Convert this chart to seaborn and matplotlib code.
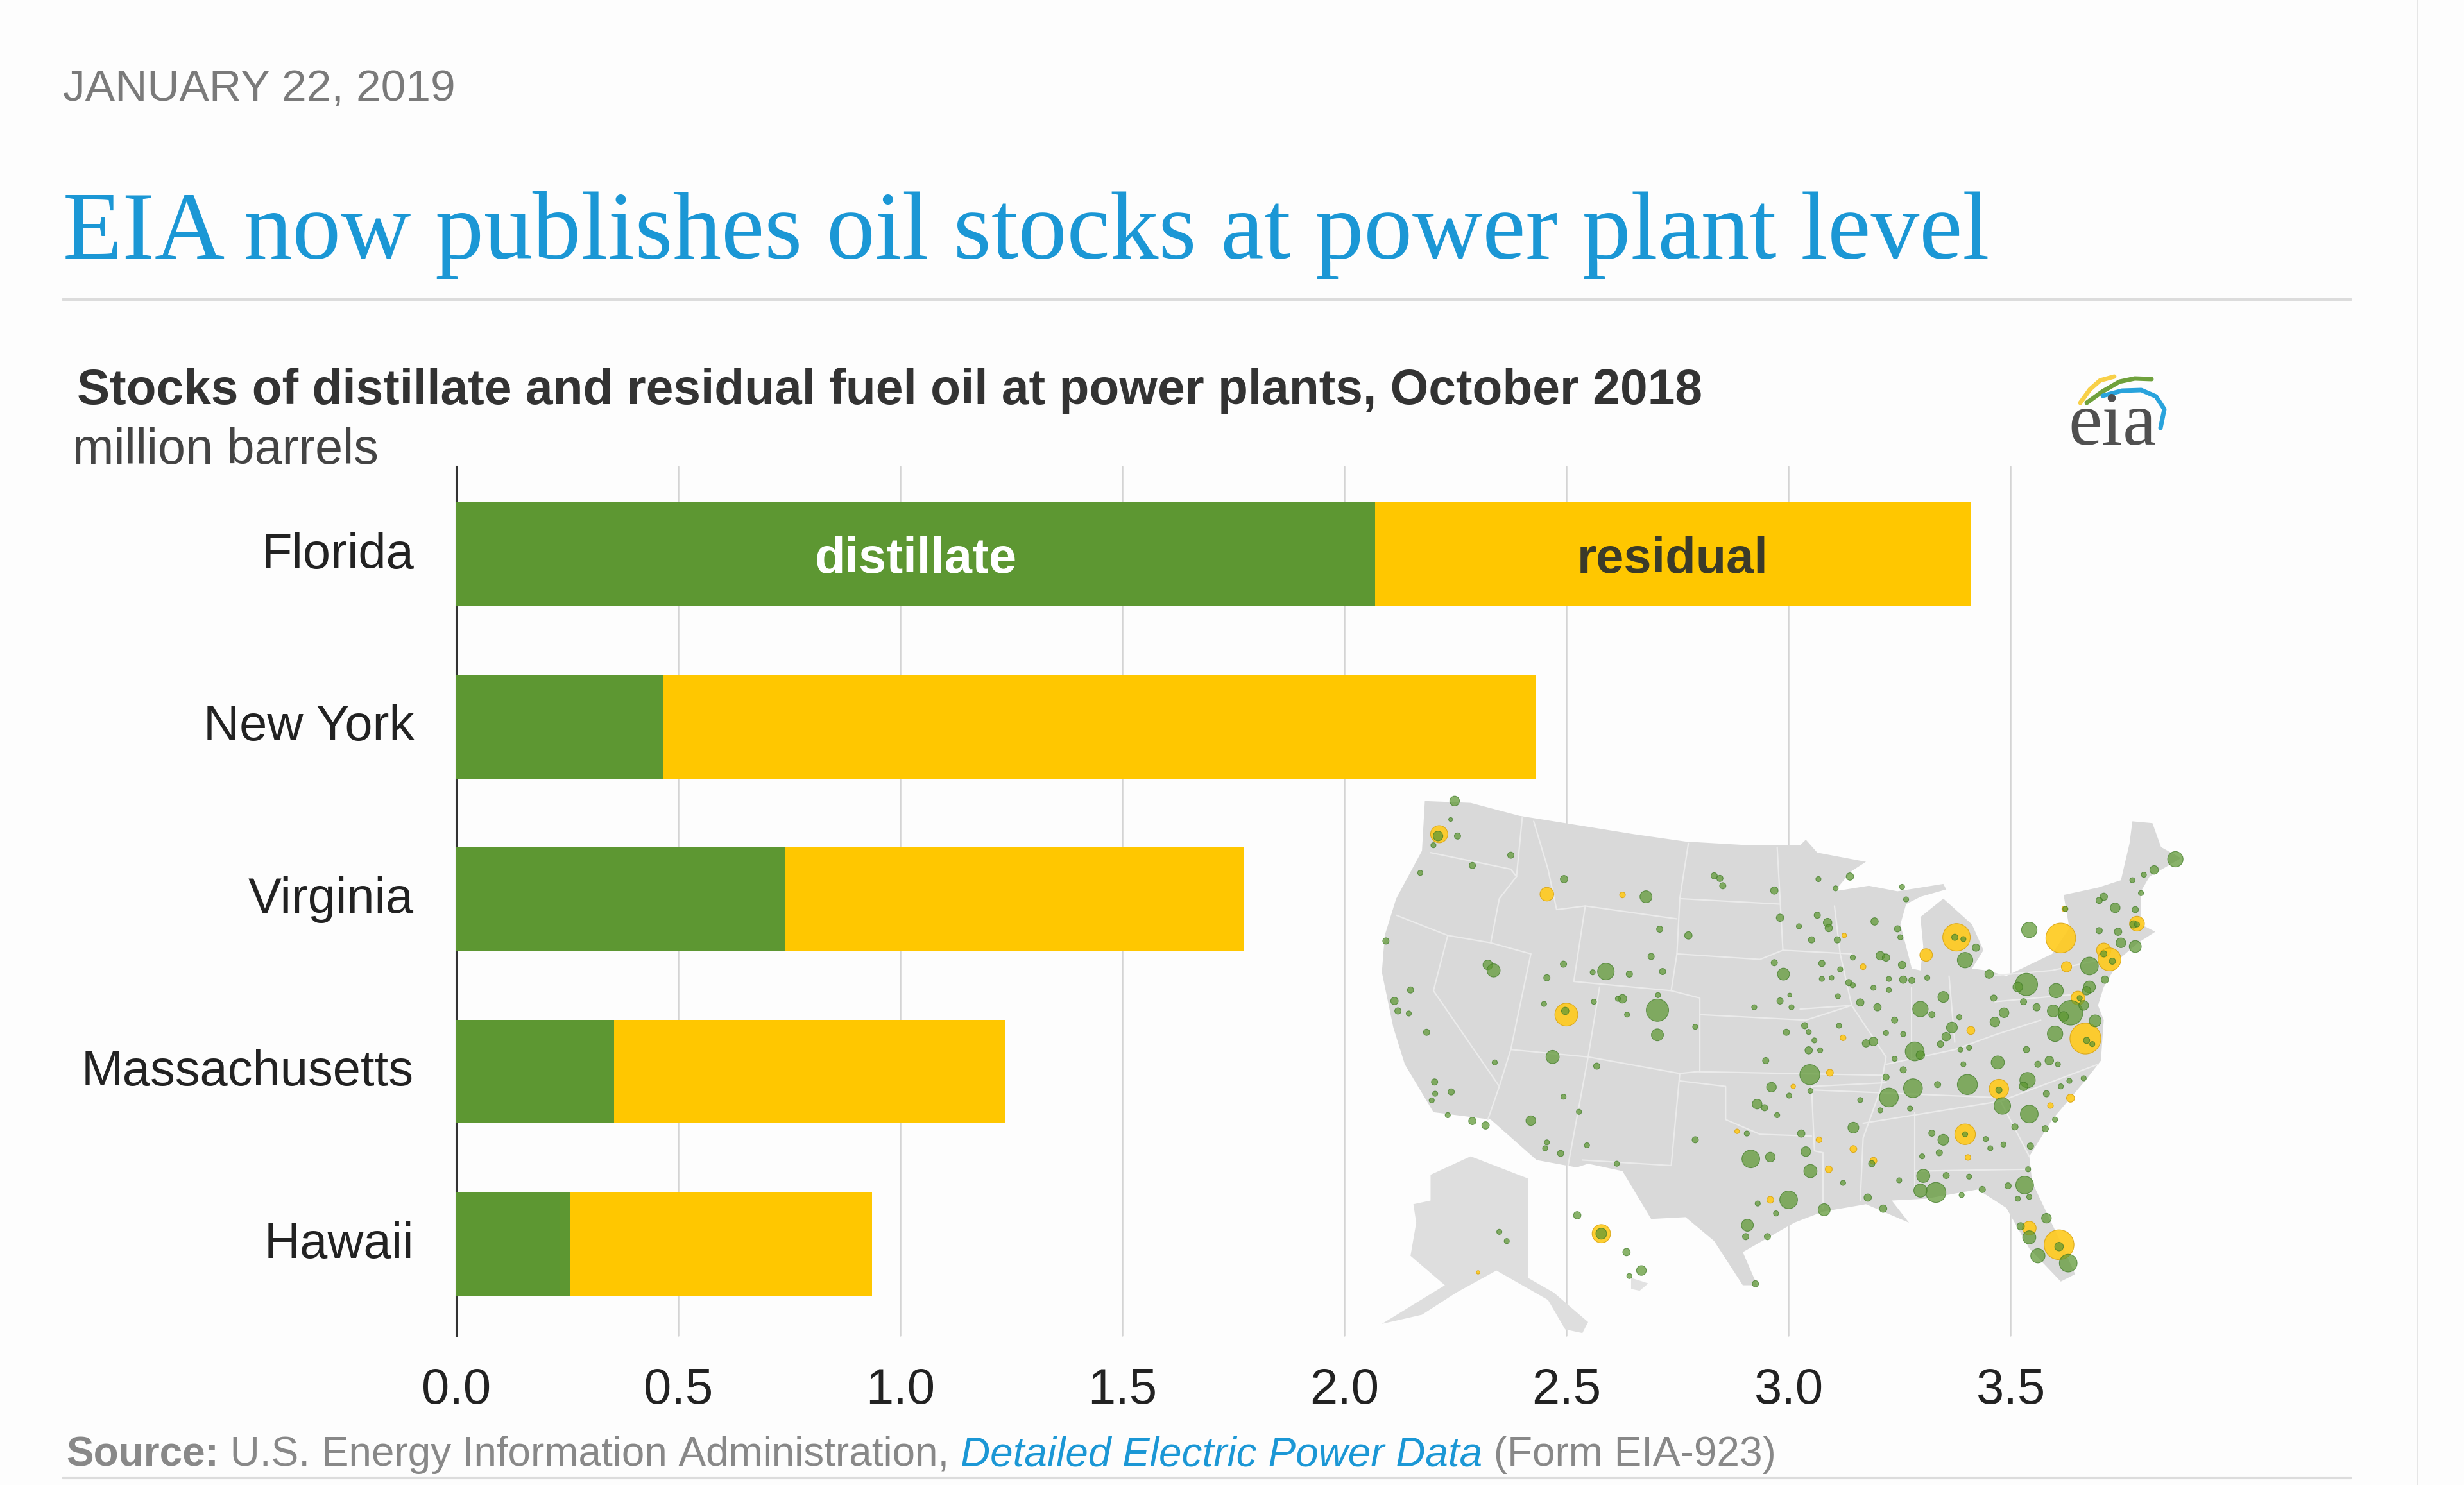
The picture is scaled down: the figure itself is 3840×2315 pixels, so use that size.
import matplotlib
matplotlib.use("Agg")
import matplotlib.pyplot as plt
from matplotlib.lines import Line2D
from matplotlib.transforms import ScaledTranslation
import seaborn as sns
import numpy as np

states = ["Florida", "New York", "Virginia", "Massachusetts", "Hawaii"]
distillate = [2.07, 0.465, 0.74, 0.355, 0.256]
total = [3.41, 2.43, 1.775, 1.237, 0.936]
x_ticks = [0.0, 0.5, 1.0, 1.5, 2.0, 2.5, 3.0, 3.5]

GREEN = "#5d9732"
YELLOW = "#ffc700"
BLUE = "#1b97d5"

us_outline = [(135,85),(215,90),(300,125),(400,150),(500,175),(590,195),(700,205),(790,205),(800,190),
              (820,225),(905,250),(880,275),(850,330),(910,315),(960,330),(1040,310),(1045,325),(1000,345),
              (975,365),(965,420),(975,480),(985,540),(1000,545),(1005,480),(1000,400),(1040,350),(1090,420),
              (1110,490),(1090,540),(1115,545),(1150,560),(1230,500),(1260,430),(1250,340),(1310,320),
              (1350,300),(1365,200),(1370,140),(1405,145),(1420,210),(1455,240),(1400,290),(1385,330),
              (1385,420),(1410,440),(1380,470),(1350,510),(1320,590),(1310,640),(1320,680),(1315,790),
              (1290,840),(1230,950),(1190,1050),(1195,1120),(1250,1300),(1270,1370),(1245,1390),(1190,1300),
              (1150,1190),(1100,1140),(1010,1165),(950,1170),(980,1230),(905,1180),(830,1200),(780,1230),
              (690,1310),(715,1400),(690,1400),(640,1280),(590,1215),(530,1220),(480,1090),(420,1070),
              (400,1080),(330,1060),(250,950),(150,930),(100,800),(80,700),(60,550),(65,450),(85,350),(130,220)]
alaska_outline = [(145,1100),(215,1050),(315,1110),(315,1380),(360,1420),(420,1500),(410,1530),(380,1520),
                  (350,1440),(260,1360),(190,1420),(130,1480),(60,1505),(170,1400),(110,1320),(120,1230),
                  (115,1180),(145,1170)]
hawaii_outline = [(495,1380),(525,1395),(510,1415),(495,1410)]
state_lines = [
    [(145,225),(285,270),(295,290),(265,350),(250,470)],
    [(305,130),(295,290)],
    [(85,395),(175,450),(250,470),(320,500)],
    [(175,450),(150,600),(265,860),(245,950)],
    [(320,500),(285,760),(265,860)],
    [(285,760),(420,780),(580,825),(610,820),(940,830)],
    [(440,590),(420,780),(385,1075)],
    [(325,140),(350,270),(365,380),(415,370),(575,405)],
    [(415,370),(395,575),(565,600),(615,620),(615,820)],
    [(595,200),(580,350),(575,500),(565,600)],
    [(580,350),(755,365)],
    [(575,500),(720,515),(760,490)],
    [(750,210),(760,490),(880,500)],
    [(615,665),(800,680),(880,640),(790,650)],
    [(580,825),(565,1075),(410,1060)],
    [(580,845),(660,860),(660,950),(720,990),(810,995)],
    [(810,860),(815,1035),(830,1040),(830,1190)],
    [(810,860),(940,850)],
    [(850,370),(860,500),(880,640),(940,780),(930,870),(900,1000),(895,1170)],
    [(990,930),(990,1130)],
    [(900,960),(1140,900),(1310,800)],
    [(815,870),(1130,890)],
    [(940,800),(1060,760),(1130,720),(1210,680)],
    [(985,590),(985,780)],
    [(1050,560),(1060,740)],
    [(1120,560),(1230,545),(1330,510)],
    [(1130,630),(1270,610)],
    [(990,1090),(1190,1085)],
    [(1140,900),(1190,1050)],
]

# plant bubbles: x, y, width in crop units
yellow_plants = [(160,175,30),(348,338,24),(382,665,40),(1063,455,48),(1010,503,22),(1245,457,52),(1255,535,18),
                 (1320,490,25),(1330,515,40),(1378,418,26),(1275,620,24),(1288,730,54),(1088,708,14),(1137,867,34),
                 (1078,990,36),(918,1062,12),(883,1030,12),(840,1085,12),(823,1005,10),(1083,1053,10),(1262,892,14),
                 (1227,912,10),(1190,1245,24),(1242,1290,52),(443,1260,32),(480,340,10),(842,823,12),(865,728,10),
                 (900,535,10),(680,982,8),(778,860,8),(1252,378,10),(738,1168,12),(867,450,8),(228,1365,6)]
green_plants = [(187,85,14),(158,180,14),(150,205,6),(192,180,8),(180,135,4),(285,232,8),(218,260,8),(127,280,6),
                (378,297,10),(521,345,18),(640,288,8),(650,295,8),(655,315,8),(745,328,10),(822,297,6),(877,290,10),
                (852,322,6),(755,402,10),(820,395,8),(838,415,12),(840,430,10),(788,425,6),(810,462,8),(855,462,8),
                (920,412,10),(960,432,8),(965,455,6),(975,352,6),(968,318,6),(67,465,8),(545,433,8),(595,450,10),
                (530,507,8),(245,530,14),(255,545,20),(377,528,8),(348,565,8),(451,548,26),(428,550,6),(492,555,8),
                (550,548,8),(745,524,8),(761,555,18),(828,526,8),(860,542,6),(828,568,6),(845,565,5),(875,578,8),
                (882,585,6),(882,510,6),(930,505,12),(940,510,10),(968,530,10),(970,570,10),(985,572,8),(945,568,6),
                (945,598,6),(918,592,6),(1012,565,6),(1040,617,16),(1078,517,24),(1097,483,10),(1120,555,12),
                (1185,583,36),(1170,590,14),(1128,620,8),(1190,435,24),(1237,600,22),(1295,533,28),(1295,590,18),
                (1290,600,12),(1322,570,10),(1232,655,18),(1203,645,10),(1180,630,8),(1146,660,14),(1130,685,14),
                (1262,660,40),(1250,670,14),(1285,640,14),(1305,682,18),(1235,717,24),(1340,375,14),(1320,345,10),
                (1312,355,8),(1375,380,8),(1372,420,10),(1375,480,18),(1350,470,14),(1345,440,10),(1312,437,8),
                (1445,243,24),(1408,272,12),(1390,285,6),(1370,300,6),(1385,335,6),(110,598,8),(82,628,10),(88,655,8),
                (107,662,6),(138,713,8),(480,622,12),(472,622,6),(430,630,6),(343,636,6),(380,655,10),(541,653,36),
                (488,665,6),(541,720,18),(607,698,6),(542,612,6),(358,780,20),(435,805,8),(257,795,6),(152,848,8),
                (181,875,8),(153,880,6),(147,898,6),(175,938,6),(218,954,10),(241,966,10),(377,888,6),(404,929,6),
                (320,953,14),(348,1012,6),(345,1028,6),(418,1020,6),(372,1042,8),(470,1070,6),(607,1005,8),(697,988,6),
                (710,645,6),(755,628,8),(775,645,6),(772,612,4),(856,615,6),(895,632,10),(925,645,10),(766,713,8),
                (798,695,8),(805,712,6),(815,735,6),(805,762,10),(825,762,6),(858,695,6),(905,743,10),(918,738,12),
                (940,715,6),(970,718,6),(955,680,8),(1000,650,24),(1020,665,8),(990,765,30),(1000,775,12),(1055,700,16),
                (1045,725,12),(1035,745,8),(1068,672,6),(1070,760,6),(1085,755,6),(1075,800,6),(730,790,8),(807,828,32),
                (740,862,14),(771,885,6),(808,872,6),(940,835,8),(955,785,6),(970,815,8),(987,865,30),(1030,855,8),
                (1082,855,32),(1135,795,20),(1187,843,24),(1180,860,12),(1225,790,12),(1205,800,8),(1185,760,8),
                (1240,800,6),(1143,913,26),(1190,935,28),(1165,970,8),(1218,975,8),(1235,950,6),(945,890,30),(930,925,6),
                (982,920,6),(895,897,6),(715,908,14),(728,918,8),(750,938,6),(883,972,16),(792,988,10),(800,1037,14),
                (808,1090,20),(704,1057,28),(738,1052,14),(1040,1005,16),(1020,987,8),(1033,1040,8),(1003,1050,6),
                (1114,1003,6),(1122,1028,6),(1145,1018,6),(1192,1022,8),(1220,880,8),(1245,860,6),(1260,845,6),
                (1285,838,6),(1005,1103,20),(1045,1102,8),(1085,1105,6),(1108,1140,8),(1153,1130,8),(1182,1128,28),
                (1188,1085,6),(1170,1165,6),(1190,1160,6),(1027,1148,32),(1000,1143,20),(1072,1155,6),(963,1115,6),
                (908,1162,10),(935,1192,10),(865,1122,6),(770,1168,28),(832,1195,18),(716,1178,6),(748,1205,6),
                (698,1237,18),(695,1268,8),(733,1268,8),(712,1396,8),(915,1070,8),(1220,1218,14),(1175,1240,10),
                (1190,1270,20),(1205,1320,22),(1258,1340,28),(1242,1295,12),(265,1255,6),(278,1280,6),(401,1210,10),
                (443,1260,16),(487,1310,10),(513,1360,14),(492,1375,6),(1060,455,8),(1075,460,6),(1290,735,8),
                (1300,745,6),(1137,870,8),(1078,990,6),(1320,500,8),(1335,520,8),(1378,420,6),(1278,620,6),(1253,378,6)]

# logo arcs in full picture pixels
logo_yellow = [(3242,628),(3257,607),(3273,593),(3295,587)]
logo_green = [(3252,628),(3277,610),(3303,595),(3327,590),(3353,591)]
logo_blue = [(3277,617),(3307,609),(3337,608),(3360,618),(3373,638),(3367,667)]

W, H = 3840, 2315
DPI = 100

sns.set_theme(style="whitegrid")
plt.rcParams["font.family"] = ["Liberation Sans", "DejaVu Sans"]

fig = plt.figure(figsize=(W / DPI, H / DPI), dpi=DPI, facecolor="#fdfdfd")


def fx(x):
    return x / W


def fy(y):
    return 1 - y / H


ax = fig.add_axes([fx(711), fy(2082), fx(3133 - 711), (2082 - 727) / H])
ax.set_facecolor("none")
sns.barplot(x=total, y=states, color=YELLOW, width=0.6, saturation=1, linewidth=0, ax=ax, zorder=3)
sns.barplot(x=distillate, y=states, color=GREEN, width=0.6, saturation=1, linewidth=0, ax=ax, zorder=3)
ax.set_xlim(0, 3.5)
ax.set_ylim(4.53, -0.51)
ax.set_xticks(x_ticks)
ax.set_xticklabels([f"{t:.1f}" for t in x_ticks])
ax.grid(axis="x", color="#d4d4d4", lw=1.8, clip_on=False)
ax.grid(axis="y", visible=False)
ax.set_axisbelow(True)
for side in ["top", "bottom", "right"]:
    ax.spines[side].set_visible(False)
ax.spines["left"].set_color("#333333")
ax.spines["left"].set_linewidth(2.2)
ax.tick_params(axis="y", length=0, pad=46, labelsize=56, labelcolor="#222222")
ax.tick_params(axis="x", length=0, pad=35, labelsize=56, labelcolor="#222222")
lift = ScaledTranslation(-2 / DPI, 7 / DPI, fig.dpi_scale_trans)
for lab in ax.get_yticklabels():
    lab.set_transform(lab.get_transform() + lift)
ax.text(1.035, 0.03, "distillate", color="white", fontsize=56, fontweight="bold", ha="center", va="center", zorder=5)
ax.text(2.74, 0.03, "residual", color="#3a3a2a", fontsize=56, fontweight="bold", ha="center", va="center", zorder=5)

# the map is an inset, it hides the grid lines behind it
mp = fig.add_axes([fx(2100), fy(2100), fx(1400), 900 / H])
mp.axis("off")
for shape, col in [(us_outline, "#d9d9d9"), (alaska_outline, "#dedede"), (hawaii_outline, "#e2e2e2")]:
    pts = np.array(shape)
    mp.fill(pts[:, 0], pts[:, 1], color=col, lw=0, zorder=1)
for seg in state_lines:
    pts = np.array(seg)
    mp.plot(pts[:, 0], pts[:, 1], color="#ebebeb", lw=1.6, zorder=2)

crop_to_pt = (1400 / 1568) * 72 / DPI
for plants, grow, col, edge, alpha, z in [(yellow_plants, 0, "#ffca1c", "#d9a514", 0.9, 3),
                                          (green_plants, 3, "#5d9732", "#3f7a25", 0.72, 4)]:
    p = np.array(plants, dtype=float)
    sns.scatterplot(x=p[:, 0], y=p[:, 1], s=((p[:, 2] + grow) * crop_to_pt) ** 2, color=col, edgecolor=edge,
                    linewidth=0.8, alpha=alpha, ax=mp, zorder=z, legend=False)
mp.set_xlim(0, 1568)
mp.set_ylim(1568, 0)

# page furniture
fig.text(fx(98), fy(139), "JANUARY 22, 2019", color="#7a7a7a", fontsize=50, va="center", ha="left")
fig.text(fx(98), fy(367), "EIA now publishes oil stocks at power plant level", color=BLUE, fontsize=109,
         family="Liberation Serif", va="center", ha="left")
fig.text(fx(120), fy(610), "Stocks of distillate and residual fuel oil at power plants, October 2018",
         color="#333333", fontsize=55.3, fontweight="bold", va="center", ha="left")
fig.text(fx(113), fy(703), "million barrels", color="#444444", fontsize=55.7, va="center", ha="left")

fig.add_artist(Line2D([fx(98), fx(3664)], [fy(467), fy(467)], color="#dcdcdc", lw=3))
fig.add_artist(Line2D([fx(98), fx(3664)], [fy(2304), fy(2304)], color="#dcdcdc", lw=3))
fig.add_artist(Line2D([fx(3767), fx(3767)], [0, 1], color="#e6e6e6", lw=2))

# source line, pieces placed one after the other
renderer = fig.canvas.get_renderer()
x_now = 103
for piece, col, kw in [("Source:", "#888888", {"fontweight": "bold"}),
                       (" U.S. Energy Information Administration, ", "#888888", {}),
                       ("Detailed Electric Power Data", BLUE, {"fontstyle": "italic"}),
                       (" (Form EIA-923)", "#888888", {})]:
    t = fig.text(fx(x_now), fy(2268), piece.replace(" ", "\u00a0"), color=col, fontsize=46, va="center", ha="left", **kw)
    x_now = t.get_window_extent(renderer).x1

# eia logo
fig.text(fx(3223), fy(693), "eia", color="#505050", fontsize=85, family="Liberation Serif", va="baseline", ha="left")
for arc, col in [(logo_yellow, "#f8d048"), (logo_green, "#6fa13c"), (logo_blue, "#29a3dc")]:
    pts = np.array(arc)
    fig.add_artist(Line2D(pts[:, 0] / W, 1 - pts[:, 1] / H, color=col, lw=5, solid_capstyle="round"))

fig.savefig("out.png", dpi=DPI, facecolor=fig.get_facecolor())
